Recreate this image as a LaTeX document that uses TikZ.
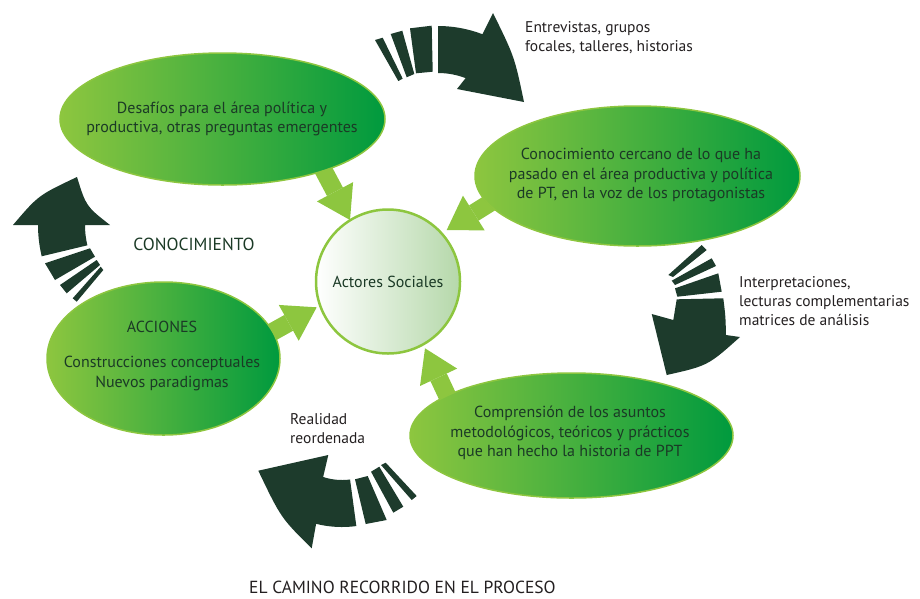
\documentclass[tikz,border=0pt]{standalone}
\usepackage{fontspec}
\setmainfont{PT Sans}
\usetikzlibrary{arrows.meta,backgrounds,shapes.geometric}
\definecolor{lgreen}{HTML}{8DC63F}
\definecolor{dgreen}{HTML}{009A3E}
\definecolor{darkarrow}{HTML}{1D3B2C}
\definecolor{txtgreen}{HTML}{1B3A26}
\definecolor{txtblack}{HTML}{231F20}
\definecolor{paleg}{HTML}{B5D8AA}
\begin{document}
\begin{tikzpicture}[x=1pt,y=-1pt,
  ell/.style={ellipse, draw=lgreen, line width=1.5pt, left color=lgreen, right color=dgreen, inner sep=0pt},
  hub/.style={circle, draw=lgreen, line width=2.5pt, left color=white, right color=paleg, minimum size=144pt, inner sep=0pt},
  etxt/.style={align=center, text=txtgreen, font=\fontsize{16}{19.7}\selectfont, inner sep=0pt},
  otxt/.style={align=left, text=txtblack, font=\fontsize{15.5}{19}\selectfont, inner sep=0pt},
  captxt/.style={inner sep=0pt, font=\fontsize{17.5}{20}\selectfont},
  dk/.style={fill=darkarrow},
  fat/.style={draw=lgreen, line width=18pt, -{Triangle[width=41pt,length=32pt,line width=0pt]}}]
\useasboundingbox (0,0) rectangle (920,598);

% ellipses and hub
\node[ell, minimum width=325pt, minimum height=132pt] (tl) at (222.5,119) {};
\node[ell, minimum width=325pt, minimum height=140pt] (rt) at (637.5,176) {};
\node[ell, minimum width=323pt, minimum height=125pt] (bm) at (571.5,435.5) {};
\node[ell, minimum width=233pt, minimum height=153pt] (lf) at (163.5,358.5) {};
\node[hub, text=txtgreen, font=\fontsize{16}{19}\selectfont] (c) at (388,281.5) {Actores Sociales};

% texts
\node[etxt] (tlt) at (222,119) {Desafíos para el área política y\\productiva, otras preguntas emergentes};
\node[etxt] (rtt) at (641,175) {Conocimiento cercano de lo que ha\\pasado en el área productiva y política\\de PT, en la voz de los protagonistas};
\node[etxt] (bmt) at (570,433) {Comprensión de los asuntos\\metodológicos, teóricos y prácticos\\que han hecho la historia de PPT};
\node[etxt] (lft) at (162,356) {ACCIONES\\[15pt]Construcciones conceptuales\\Nuevos paradigmas};
\node[otxt, anchor=west] (ent) at (525,38) {Entrevistas, grupos\\focales, talleres, historias};
\node[otxt, anchor=west] (int) at (739,301.5) {Interpretaciones,\\lecturas complementarias\\matrices de análisis};
\node[otxt, anchor=west] (rea) at (290,429) {Realidad\\reordenada};
\node[captxt, text=txtgreen] (con) at (194,244) {CONOCIMIENTO};
\node[captxt, text=txtblack, anchor=west] (cam) at (249,587) {EL CAMINO RECORRIDO EN EL PROCESO};

\begin{scope}[on background layer]
% green connectors
\draw[fat] ([shift={(92.4,35)}]tl.center) -- ([shift={(-38,-61.5)}]c.center);
\draw[fat] ([shift={(-123,11.6)}]rt.center) -- ([shift={(58.7,-51.5)}]c.center);
\draw[fat] ([shift={(82.9,-12.1)}]lf.center) -- ([shift={(-71.3,25.8)}]c.center);
\draw[fat] ([shift={(-116.8,-23.8)}]bm.center) -- ([shift={(37,66.8)}]c.center);

% top cycle arrow
\fill[dk] (375,40) -- (382.7,37.7) -- (402.7,78.7) -- (398.3,81) -- cycle;
\fill[dk] (390.7,34) -- (402.3,30.7) -- (414.3,74) -- (406.7,77.3) -- cycle;
\fill[dk] (410,28.3) -- (431.7,25.7) -- (432.7,71.7) -- (416,73.3) -- cycle;
\fill[dk] plot[domain=-90:-69,samples=12,variable=\t]({438+124*cos(\t)},{150+124*sin(\t)})
  -- (493,13) .. controls (514.5,56.8) .. (524,102) -- (457,89)
  -- plot[domain=-69:-90,samples=12,variable=\t]({438+77*cos(\t)},{150+77*sin(\t)}) -- cycle;

% left cycle arrow
\fill[dk] (45,263.3) -- (90,248.3) -- (95,256.7) -- (55,280) -- cycle;
\fill[dk] (60,285) -- (96.7,260) -- (100,265) -- (66.7,293.3) -- cycle;
\fill[dk] (72.7,298.3) -- (100.7,266.7) -- (103.3,270) -- (76.7,301.7) -- cycle;
\fill[dk] plot[domain=166.5:180,samples=10,variable=\t]({172+134*cos(\t)},{225+134*sin(\t)})
  -- (13,225) .. controls (38.3,195.3) .. (77,177) .. controls (86.1,206.3) .. (110,225)
  -- plot[domain=180:166.5,samples=10,variable=\t]({172+87*cos(\t)},{225+87*sin(\t)}) -- cycle;

% right cycle arrow
\fill[dk] (668.3,275) -- (701.7,245) -- (706.7,250) -- (673,277) -- cycle;
\fill[dk] (671.7,280.7) -- (711.7,258.3) -- (716,266) -- (675,285) -- cycle;
\fill[dk] (675,288.3) -- (718.3,273.3) -- (721.7,291.7) -- (677.3,296.7) -- cycle;
\fill[dk] (676.7,299.3) -- (723.3,298.3) .. controls (725.5,316) .. (726,335) -- (740,337)
  .. controls (707.9,365.7) .. (666.7,375) -- (651.7,314) -- (673.3,320) -- cycle;

% bottom cycle arrow
\fill[dk] (381,465) -- (385.7,462.7) -- (416.7,496) -- (411.7,500) -- cycle;
\fill[dk] (371,471.7) -- (379.3,466.7) -- (403.3,506.7) -- (393.3,512.7) -- cycle;
\fill[dk] (355,479.3) -- (367.7,476) -- (386.7,520) -- (365.7,524) -- cycle;
\fill[dk] plot[domain=82.3:108.3,samples=12,variable=\t]({342+60*cos(\t)},{420+60*sin(\t)})
  -- (328.3,455) -- (258.3,470.7) .. controls (281,518) .. (311.7,548.3) -- (316.1,523.8)
  -- plot[domain=104:82.3,samples=12,variable=\t]({342+107*cos(\t)},{420+107*sin(\t)}) -- cycle;
\end{scope}
\end{tikzpicture}
\end{document}
